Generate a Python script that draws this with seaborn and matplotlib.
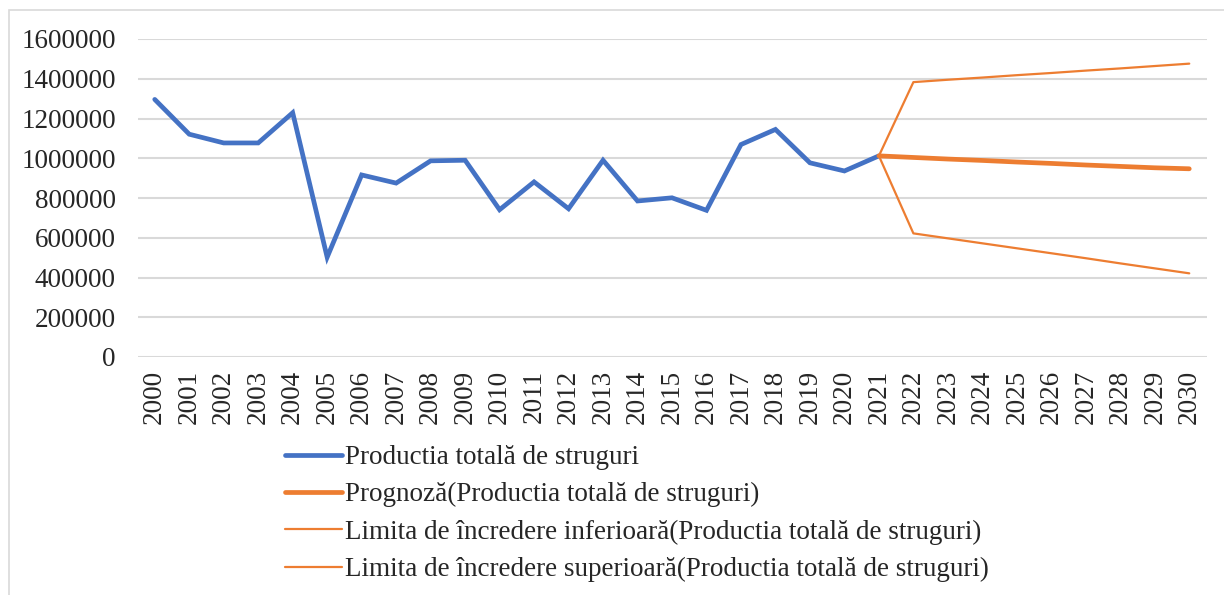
import numpy as np
import pandas as pd
import seaborn as sns
import matplotlib
matplotlib.use("Agg")
import matplotlib.pyplot as plt
from matplotlib.patches import Rectangle
from matplotlib.lines import Line2D

# ---- data ----
years = list(range(2000, 2031))
actual_years = list(range(2000, 2022))
actual = [1296000, 1121000, 1077000, 1077000, 1229000, 502000, 916000, 875000,
          987000, 990000, 741000, 881000, 746000, 990000, 785000, 801000,
          738000, 1069000, 1145000, 977000, 936000, 1012000]
fc_years = list(range(2021, 2031))
forecast = [1012000, 1004000, 996000, 989000, 981000, 974000, 966000, 959000, 952000, 947000]
lower = [1012000, 622000, 597000, 572000, 547000, 522000, 497000, 471000, 446000, 421000]
upper = [1012000, 1383000, 1395000, 1406000, 1418000, 1429000, 1441000, 1452000, 1464000, 1476000]
yticks = [0, 200000, 400000, 600000, 800000, 1000000, 1200000, 1400000, 1600000]
labels = ["Productia totală de struguri",
          "Prognoză(Productia totală de struguri)",
          "Limita de încredere inferioară(Productia totală de struguri)",
          "Limita de încredere superioară(Productia totală de struguri)"]

sns.set_style("white")
plt.rcParams['font.family'] = ['Liberation Serif', 'DejaVu Serif']

BLUE = "#4472C4"
ORANGE = "#ED7D31"
FS = 19.5

fig = plt.figure(figsize=(12.24, 5.95), dpi=100)
ax = fig.add_axes([137.5/1224, 1-357/595, (1206.5-137.5)/1224, (357-39)/595])

df_a = pd.DataFrame({"year": actual_years, "v": actual})
df_f = pd.DataFrame({"year": fc_years, "f": forecast, "lo": lower, "up": upper})

sns.lineplot(data=df_a, x="year", y="v", ax=ax, color=BLUE, lw=3.4,
             solid_joinstyle="miter", solid_capstyle="round", zorder=3)
sns.lineplot(data=df_f, x="year", y="f", ax=ax, color=ORANGE, lw=3.4,
             solid_capstyle="round", zorder=4)
sns.lineplot(data=df_f, x="year", y="lo", ax=ax, color=ORANGE, lw=1.6, zorder=5)
sns.lineplot(data=df_f, x="year", y="up", ax=ax, color=ORANGE, lw=1.6, zorder=5)

ax.set_xlim(1999.5, 2030.5)
ax.set_ylim(0, 1600000)
ax.set_yticks(yticks)
ax.set_yticklabels([str(t) for t in yticks], fontsize=FS)
ax.set_xticks(years)
ax.set_xticklabels([str(y) for y in years], rotation=90, fontsize=FS)
ax.tick_params(axis="x", length=0, pad=9)
ax.tick_params(axis="y", length=0, pad=15.5)
ax.set_xlabel("")
ax.set_ylabel("")
ax.grid(axis="y", color="#D9D9D9", lw=1.5)
ax.set_axisbelow(True)
for s in ax.spines.values():
    s.set_visible(False)
if ax.get_legend():
    ax.get_legend().remove()

handles = [Line2D([], [], color=BLUE, lw=3.4, solid_capstyle="round"),
           Line2D([], [], color=ORANGE, lw=3.4, solid_capstyle="round"),
           Line2D([], [], color=ORANGE, lw=1.6),
           Line2D([], [], color=ORANGE, lw=1.6)]
fig.legend(handles, labels, loc="upper left", bbox_to_anchor=(285/1224, 1-445/595),
           frameon=False, fontsize=FS, handlelength=2.1, handletextpad=0.12,
           labelspacing=0.45, borderpad=0, borderaxespad=0)

fig.patches.append(Rectangle((8.5/1224, -0.1), 1.2, 1.1 - 10.5/595, transform=fig.transFigure,
                             fill=False, edgecolor="#D9D9D9", lw=1.2))

fig.savefig("out.png", dpi=100)
